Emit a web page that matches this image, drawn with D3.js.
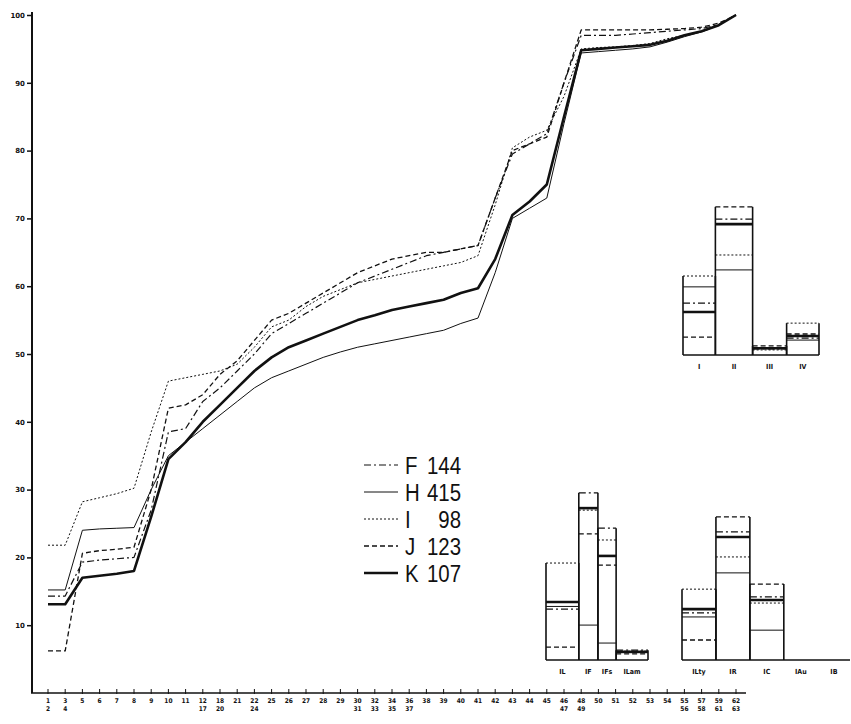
<!DOCTYPE html>
<html>
<head>
<meta charset="utf-8">
<script src="https://cdn.jsdelivr.net/npm/d3@7"></script>
<style>
  body { margin: 0; background: #fff; }
  svg { display: block; }
  text { fill: #111; }
</style>
</head>
<body>
<div id="chart"></div>
<script>
// type list along the x axis ("a|b" = two lines, stacked)
const typeLabels = ["1|2","3|4","5","6","7","8","9","10","11","12|17","18|20","21","22|24",
    "25","26","27","28","29","30|31","32|33","34|35","36|37","38","39","40","41","42","43",
    "44","45","46|47","48|49","50","51","52","53","54","55|56","57|58","59|61","62|63"];

const series = ["F", "H", "I", "J", "K"];
const seriesNames = {F: ["F", "144"], H: ["H", "415"], I: ["I", "98"], J: ["J", "123"], K: ["K", "107"]};

// cumulative percentages, one value per tick
const cumF = [14.3,14.3,19.3,19.6,19.8,20,27,38.5,39,43,45,47.5,50,53,54.5,56,57.5,59,60.5,61.5,
    62.5,63.5,64.5,65,65.5,66,73,79.5,81,82.5,90,97,97,97,97.2,97.4,97.6,97.8,98,98.6,100];
const cumH = [15.2,15.2,24,24.2,24.3,24.4,30,35,37,39,41,43,45,46.5,47.5,48.5,49.5,50.3,51,51.5,
    52,52.5,53,53.5,54.5,55.3,62,70,71.5,73,84,94.4,94.6,94.8,95,95.3,96,96.8,97.5,98.5,100];
const cumI = [21.8,21.8,28.2,28.8,29.4,30.2,38.5,46,46.5,47,47.5,48.5,51,54,55,57,58.5,59.5,60.5,61,
    61.5,62,62.5,63,63.5,64.5,72,80.4,82,83,88,95,95.2,95.3,95.5,95.8,96.5,97,97.5,98.5,100];
const cumJ = [6.2,6.2,20.6,21,21.2,21.5,30,42,42.5,44,47,49,52,55,56,57.5,59,60.5,62,63,
    64,64.5,65,65,65.5,66,73,80,81,82,90,97.8,97.8,97.8,97.8,97.8,97.9,98,98.2,98.8,100];
const cumK = [13.1,13.1,17,17.3,17.6,18,26,34.5,37,40,42.5,45,47.5,49.5,51,52,53,54,55,55.7,
    56.5,57,57.5,58,59,59.7,64,70.5,72.5,75,85,94.8,95,95.2,95.4,95.6,96.2,97,97.6,98.5,100];

// index bars: groups I-IV
const groupCats = ["I", "II", "III", "IV"];
const groupF = [15.3, 40.1, 1.8, 5.0];
const groupH = [20.1, 25.1, 2.2, 4.4];
const groupI = [23.3, 29.5, 1.5, 9.4];
const groupJ = [5.3, 43.7, 2.7, 6.2];
const groupK = [12.7, 38.6, 2.0, 5.6];

// technical indices
const techCats = ["IL", "IF", "IFs", "ILam"];
const techF = [15.0, 49.3, 38.9, 2.9];
const techH = [15.8, 10.3, 5.0, 2.2];
const techI = [28.6, 44.2, 35.4, 2.6];
const techJ = [3.8, 37.2, 28.0, 1.8];
const techK = [17.1, 44.8, 30.7, 2.4];

// typological indices
const typoCats = ["ILty", "IR", "IC", "IAu", "IB"];
const typoF = [13.9, 37.8, 18.6, 0, 0];
const typoH = [12.7, 25.7, 8.8, 0, 0];
const typoI = [20.9, 30.4, 16.8, 0, 0];
const typoJ = [5.9, 42.2, 22.4, 0, 0];
const typoK = [15.0, 36.3, 17.7, 0, 0];

const cumData = {F: cumF, H: cumH, I: cumI, J: cumJ, K: cumK};

// line styles per site
const styles = {
    F: {dash: "7,3,2,3", width: 1.2},
    H: {dash: null, width: 1},
    I: {dash: "2,2", width: 1},
    J: {dash: "5,3", width: 1.3},
    K: {dash: null, width: 2.6}
};

const width = 851, height = 724;

const svg = d3.select("#chart").append("svg")
    .attr("width", width)
    .attr("height", height);

// scales
const x = d3.scaleLinear().domain([0, typeLabels.length - 1]).range([48, 736]);
const y = d3.scaleLinear().domain([0, 100]).range([693, 15]);

function styleLine(sel, key) {
    sel.attr("fill", "none")
        .attr("stroke", "#111")
        .attr("stroke-width", styles[key].width)
        .attr("stroke-dasharray", styles[key].dash);
}

// y axis
const yAxis = svg.append("g")
    .attr("transform", "translate(32,0)")
    .call(d3.axisLeft(y).tickValues(d3.range(10, 101, 10)).tickSize(5).tickSizeOuter(0));
yAxis.select(".domain").remove();
yAxis.selectAll("line").attr("stroke", "#111").attr("stroke-width", 1.5);
yAxis.selectAll("text")
    .attr("font-family", "DejaVu Sans, sans-serif")
    .attr("font-size", 7)
    .attr("font-weight", "bold")
    .attr("fill", "#222")
    .attr("x", -7);

svg.append("line")
    .attr("x1", 32).attr("x2", 32)
    .attr("y1", 12).attr("y2", y(0))
    .attr("stroke", "#111").attr("stroke-width", 2);

// x axis
svg.append("line")
    .attr("x1", 31).attr("x2", 746)
    .attr("y1", y(0)).attr("y2", y(0))
    .attr("stroke", "#111").attr("stroke-width", 1.6);

const xTicks = svg.append("g").selectAll("g")
    .data(typeLabels)
    .enter()
    .append("g")
    .attr("transform", (d, i) => "translate(" + x(i) + "," + y(0) + ")");

xTicks.append("line")
    .attr("y1", -4).attr("y2", 1)
    .attr("stroke", "#111").attr("stroke-width", 1);

xTicks.each(function(d) {
    let parts = d.split("|");
    let t = d3.select(this).append("text")
        .attr("text-anchor", "middle")
        .attr("font-family", "DejaVu Sans Condensed, DejaVu Sans, sans-serif")
        .attr("font-size", 6.5)
        .attr("font-weight", "bold");
    parts.forEach((p, k) => {
        t.append("tspan").attr("x", 0).attr("y", 10 + k * 8).text(p);
    });
});

// cumulative curves
const line = d3.line()
    .x((d, i) => x(i))
    .y(d => y(d));

series.forEach(key => {
    svg.append("path")
        .datum(cumData[key])
        .attr("d", line)
        .call(styleLine, key)
        .attr("stroke-linejoin", "round");
});

// legend (narrow lettering, squeezed horizontally)
const legend = svg.append("g").attr("transform", "translate(364,465)");
series.forEach((key, i) => {
    let g = legend.append("g").attr("transform", "translate(0," + (i * 27) + ")");
    g.append("line")
        .attr("x1", 0).attr("x2", 34)
        .attr("y1", 0).attr("y2", 0)
        .call(styleLine, key);
    g.append("text")
        .attr("transform", "translate(41,9) scale(0.85,1)")
        .attr("font-family", "Liberation Sans, Arial, sans-serif")
        .attr("font-size", 24)
        .text(seriesNames[key][0]);
    g.append("text")
        .attr("transform", "translate(97,9) scale(0.85,1)")
        .attr("text-anchor", "end")
        .attr("font-family", "Liberation Sans, Arial, sans-serif")
        .attr("font-size", 24)
        .text(seriesNames[key][1]);
});

// small bar insets: each bar is an open box, one line per site at its value
function drawInset(cats, rel, x0, x1, base, values) {
    let edges = [0];
    rel.forEach(r => edges.push(edges[edges.length - 1] + r));
    let bx = d3.scaleLinear().domain([0, edges[edges.length - 1]]).range([x0, x1]);
    let by = d3.scaleLinear().domain([0, 50]).range([base, base - 169.5]);

    let g = svg.append("g");
    g.append("line")
        .attr("x1", bx(0)).attr("x2", bx(edges[edges.length - 1]))
        .attr("y1", base).attr("y2", base)
        .attr("stroke", "#111").attr("stroke-width", 1.5);

    cats.forEach((c, i) => {
        let left = bx(edges[i]), right = bx(edges[i + 1]);
        let top = d3.max(series, key => values[key][i]);
        if (top > 0) {
            g.append("line")
                .attr("x1", left).attr("x2", left)
                .attr("y1", base).attr("y2", by(top))
                .attr("stroke", "#111").attr("stroke-width", 1.6);
            g.append("line")
                .attr("x1", right).attr("x2", right)
                .attr("y1", base).attr("y2", by(top))
                .attr("stroke", "#111").attr("stroke-width", 1.6);
            series.forEach(key => {
                g.append("line")
                    .attr("x1", left).attr("x2", right)
                    .attr("y1", by(values[key][i])).attr("y2", by(values[key][i]))
                    .call(styleLine, key);
            });
        }
        g.append("text")
            .attr("x", (left + right) / 2)
            .attr("y", base + 14)
            .attr("text-anchor", "middle")
            .attr("font-family", "DejaVu Sans Condensed, DejaVu Sans, sans-serif")
            .attr("font-size", 7)
            .attr("font-weight", "bold")
            .text(c);
    });
}

drawInset(groupCats, [1, 1.15, 1.05, 1], 683, 819, 355,
    {F: groupF, H: groupH, I: groupI, J: groupJ, K: groupK});
drawInset(techCats, [1.8, 1.05, 1, 1.75], 546, 648, 660,
    {F: techF, H: techH, I: techI, J: techJ, K: techK});
drawInset(typoCats, [1, 1, 1, 1, 0.95], 682, 850, 660,
    {F: typoF, H: typoH, I: typoI, J: typoJ, K: typoK});
</script>
</body>
</html>
